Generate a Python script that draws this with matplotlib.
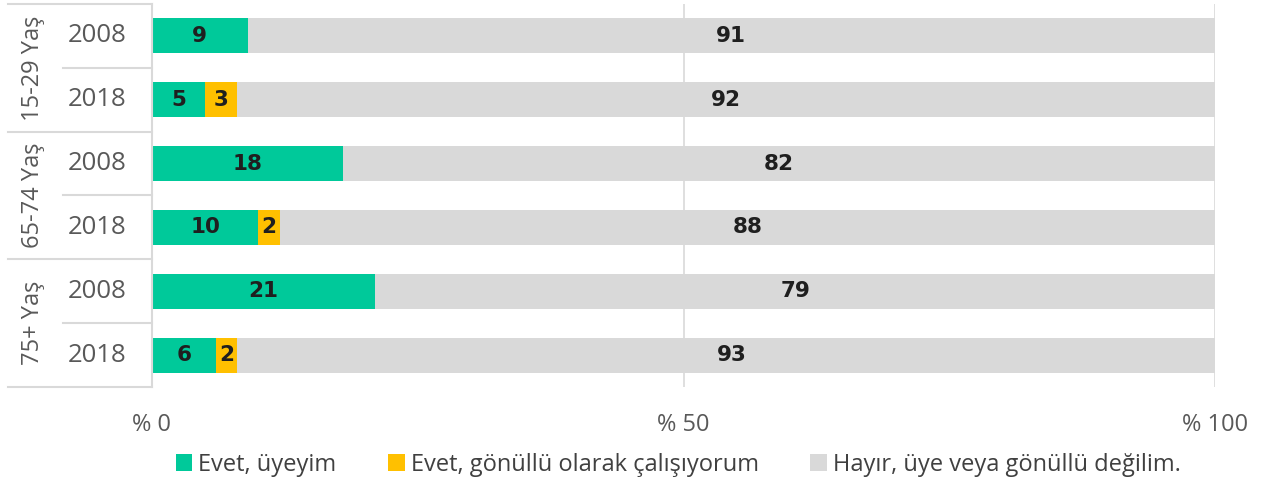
import matplotlib
matplotlib.use("Agg")
import matplotlib.pyplot as plt
from matplotlib.lines import Line2D
from matplotlib.patches import Patch
import matplotlib.transforms as mtransforms

plt.rcParams["font.family"] = ["Open Sans", "DejaVu Sans"]

groups = ["15-29 Yaş", "65-74 Yaş", "75+ Yaş"]
years = ["2008", "2018", "2008", "2018", "2008", "2018"]
members = [9, 5, 18, 10, 21, 6]
volunteers = [0, 3, 0, 2, 0, 2]
neither = [91, 92, 82, 88, 79, 93]
series_names = ["Evet, üyeyim", "Evet, gönüllü olarak çalışıyorum",
                "Hayır, üye veya gönüllü değilim."]
colors = ["#00C99A", "#FFC000", "#D9D9D9"]
xticks = [0, 50, 100]
xticklabels = ["% 0", "% 50", "% 100"]

W, H = 1270, 487
fig = plt.figure(figsize=(W / 100, H / 100), dpi=100)
ax = fig.add_axes([152 / W, 1 - 387 / H, (1215 - 152) / W, 383 / H])

rows = list(range(len(years)))
left = [0] * len(rows)
for vals, color in zip([members, volunteers, neither], colors):
    ax.barh(rows, vals, left=left, height=0.55, color=color, linewidth=0, zorder=2)
    for r, v, l in zip(rows, vals, left):
        if v > 0:
            ax.text(l + v / 2, r, str(v), ha="center", va="center",
                    fontsize=15.5, fontweight="heavy", family="DejaVu Sans",
                    color="#1F1F1F", zorder=3)
    left = [a + b for a, b in zip(left, vals)]

ax.set_xlim(0, 100)
ax.set_ylim(len(rows) - 0.5, -0.5)
ax.set_yticks([])
ax.set_xticks(xticks)
ax.set_xticklabels(xticklabels, fontsize=17, color="#595959")
ax.tick_params(axis="x", length=0, pad=19)
for s in ["top", "right", "bottom"]:
    ax.spines[s].set_visible(False)
ax.spines["left"].set_color("#D9D9D9")
ax.spines["left"].set_linewidth(1.5)
ax.grid(axis="x", color="#D9D9D9", linewidth=1.2, zorder=0)

# category table on the left
trans = mtransforms.blended_transform_factory(ax.transAxes, ax.transData)
x_outer = (8 - 152) / 1063
x_inner = (63 - 152) / 1063
for y in [-0.5, 1.5, 3.5, 5.5]:
    ax.add_line(Line2D([x_outer, 0], [y, y], transform=trans, color="#D9D9D9",
                       linewidth=1.5, clip_on=False))
for y in [0.5, 2.5, 4.5]:
    ax.add_line(Line2D([x_inner, 0], [y, y], transform=trans, color="#D9D9D9",
                       linewidth=1.5, clip_on=False))
for r, yr in zip(rows, years):
    ax.text((97 - 152) / 1063, r, yr, transform=trans, ha="center", va="center",
            fontsize=18.5, color="#595959")
for i, g in enumerate(groups):
    ax.text((33 - 152) / 1063, 2 * i + 0.5, g, transform=trans, ha="center",
            va="center", rotation=90, fontsize=17, color="#595959")

handles = [Patch(facecolor=c, edgecolor="none") for c in colors]
fig.legend(handles, series_names, loc="center", bbox_to_anchor=(0.534, 1 - 465 / H),
           ncol=3, frameon=False, fontsize=17, labelcolor="#404040",
           handlelength=0.7, handleheight=0.7, handletextpad=0.25, columnspacing=2.2)

fig.savefig("out.png", dpi=100)
